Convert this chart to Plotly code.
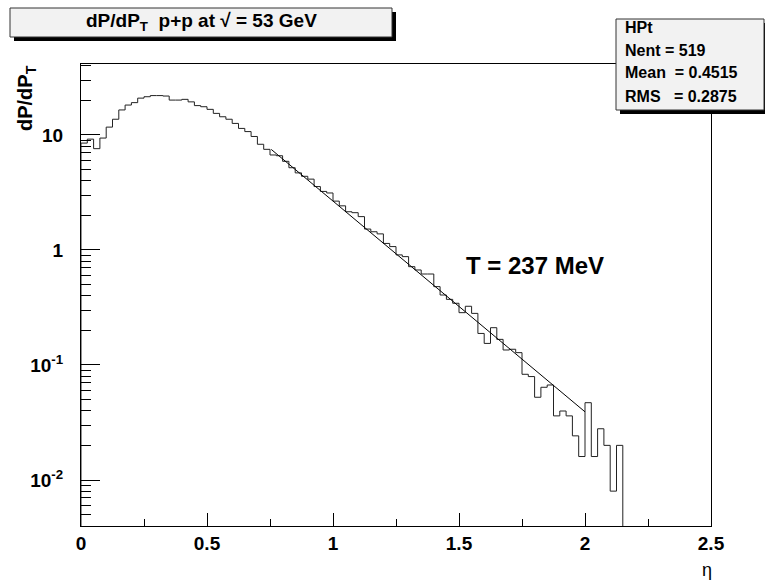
import numpy as np
import plotly.graph_objects as go

# ---------------- data ----------------
bin_width = 0.025
hist_values = [
    8.5, 9.2, 7.6, 9.4, 11.7, 13.7, 16.5, 18.2, 19.1, 20.9,
    21.5, 22.0, 22.0, 21.8, 20.1, 20.1, 20.4, 19.4, 18.0, 17.6,
    16.7, 15.4, 14.4, 13.7, 12.6, 11.4, 10.7, 9.7, 8.3, 7.5,
    6.7, 6.6, 5.9, 5.19, 4.68, 4.37, 4.13, 3.56, 3.23, 3.13,
    2.66, 2.42, 2.15, 2.11, 1.95, 1.52, 1.44, 1.38, 1.14, 1.07,
    0.906, 0.875, 0.716, 0.670, 0.618, 0.618, 0.480, 0.406, 0.372, 0.344,
    0.285, 0.324, 0.281, 0.188, 0.154, 0.211, 0.167, 0.135, 0.137, 0.128,
    0.0830, 0.0793, 0.0524, 0.0640, 0.0670, 0.0361, 0.0398, 0.0361, 0.0242, 0.0160,
    0.0470, 0.0160, 0.0279, 0.0200, 0.0080, 0.0200,
]
fit_norm = 181.0       # amplitude of exponential fit
fit_T = 0.237          # GeV
fit_range = [0.755, 2.0]

x_tick_vals = [0, 0.5, 1, 1.5, 2, 2.5]
x_tick_text = ["0", "0.5", "1", "1.5", "2", "2.5"]
y_tick_vals = [0.01, 0.1, 1, 10]
y_tick_text = ["10<sup>-2</sup>", "10<sup>-1</sup>", "1", "10"]
x_range = [0, 2.5]
y_log_range = [-2.4, 1.617]

stats_lines = ["HPt", "Nent = 519", "Mean\u00a0\u00a0= 0.4515", "RMS\u00a0\u00a0\u00a0= 0.2875"]
title_text = "dP/dP<sub>T</sub>\u00a0\u00a0p+p at \u221a = 53 GeV"
fit_label = "T = 237 MeV"

# ---------------- geometry helpers ----------------
W, H = 765, 582
L_M, R_M, T_M, B_M = 81, 54, 64, 56
PW, PH = W - L_M - R_M, H - T_M - B_M


def px(xp):
    return (xp - L_M) / PW


def py(yp):
    return (H - B_M - yp) / PH


FONT = "Liberation Sans, Arial, sans-serif"

# ---------------- traces ----------------
edges = np.arange(len(hist_values) + 1) * bin_width
floor_val = 10 ** y_log_range[0]
hx = np.concatenate([[edges[0]], edges])
hy = np.concatenate([[floor_val], hist_values, [floor_val]])

fig = go.Figure()
fig.add_trace(go.Scatter(x=hx, y=hy, mode="lines", line=dict(shape="hv", color="#222222", width=1),
                         hoverinfo="skip", showlegend=False))

fx = np.linspace(fit_range[0], fit_range[1], 60)
fy = fit_norm * np.exp(-fx / fit_T)
fig.add_trace(go.Scatter(x=fx, y=fy, mode="lines", line=dict(color="black", width=1),
                         hoverinfo="skip", showlegend=False))

# ---------------- layout ----------------
fig.update_layout(
    width=W, height=H,
    margin=dict(l=L_M, r=R_M, t=T_M, b=B_M),
    paper_bgcolor="white", plot_bgcolor="white",
    showlegend=False,
    xaxis=dict(range=x_range, showline=True, mirror=True, linecolor="black", linewidth=1,
               showgrid=False, zeroline=False, ticks="inside", ticklen=13, tickcolor="black",
               tickmode="array", tickvals=x_tick_vals, ticktext=x_tick_text,
               tickfont=dict(family=FONT, size=19, color="black", weight="bold"),
               ticklabelstandoff=0,
               minor=dict(ticks="inside", ticklen=7, tickcolor="black", dtick=0.25, tick0=0, showgrid=False)),
    yaxis=dict(type="log", range=y_log_range, showline=True, mirror=True, linecolor="black", linewidth=1,
               showgrid=False, zeroline=False, ticks="inside", ticklen=19, tickcolor="black",
               tickmode="array", tickvals=y_tick_vals, ticktext=y_tick_text,
               tickfont=dict(family=FONT, size=19, color="black", weight="bold"),
               ticklabelstandoff=13,
               minor=dict(ticks="inside", ticklen=10, tickcolor="black", dtick="D1", showgrid=False)),
)

shapes = []
# title box shadow + box
shapes.append(dict(type="rect", xref="paper", yref="paper", x0=px(14), x1=px(396), y0=py(41), y1=py(12),
                   fillcolor="black", line=dict(width=0), layer="above"))
shapes.append(dict(type="rect", xref="paper", yref="paper", x0=px(10), x1=px(392), y0=py(37), y1=py(8),
                   fillcolor="#f2f2f2", line=dict(color="#333333", width=1), layer="above"))
# stats box shadow + box
shapes.append(dict(type="rect", xref="paper", yref="paper", x0=px(620), x1=px(768), y0=py(114), y1=py(23),
                   fillcolor="black", line=dict(width=0), layer="above"))
shapes.append(dict(type="rect", xref="paper", yref="paper", x0=px(616), x1=px(764), y0=py(110), y1=py(19),
                   fillcolor="#f2f2f2", line=dict(color="#333333", width=1), layer="above"))
fig.update_layout(shapes=shapes)

ann = []
ann.append(dict(xref="paper", yref="paper", x=px(201), y=py(22), text="<b>" + title_text + "</b>",
                showarrow=False, xanchor="center", yanchor="middle",
                font=dict(family=FONT, size=19, color="black")))
stat_y = [28, 50, 73, 97]
for s, yy in zip(stats_lines, stat_y):
    ann.append(dict(xref="paper", yref="paper", x=px(623), y=py(yy), text="<b>" + s + "</b>",
                    showarrow=False, xanchor="left", yanchor="middle",
                    font=dict(family=FONT, size=16, color="black")))
ann.append(dict(xref="paper", yref="paper", x=px(535), y=py(265), text="<b>" + fit_label + "</b>",
                showarrow=False, xanchor="center", yanchor="middle",
                font=dict(family=FONT, size=24, color="black")))
ann.append(dict(xref="paper", yref="paper", x=px(27), y=py(63), text="<b>dP/dP<sub>T</sub></b>",
                showarrow=False, xanchor="center", yanchor="top", textangle=-90,
                font=dict(family=FONT, size=20, color="black")))
ann.append(dict(xref="paper", yref="paper", x=px(707), y=py(570), text="\u03b7",
                showarrow=False, xanchor="center", yanchor="middle",
                font=dict(family=FONT, size=18, color="black")))
fig.update_layout(annotations=ann)

fig.write_html("out.html")
